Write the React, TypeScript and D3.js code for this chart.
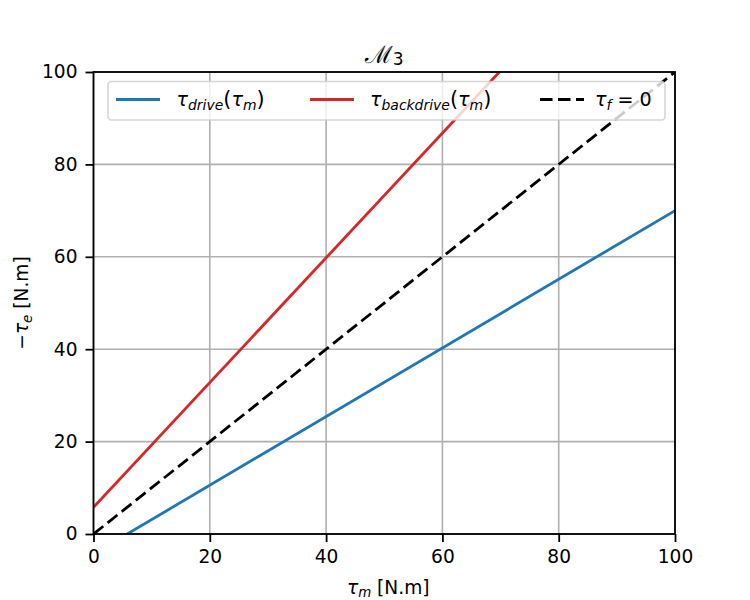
import React, { useEffect, useRef } from 'react';
import * as d3 from 'd3';

// tick labels
const xTicks = [0, 20, 40, 60, 80, 100];
const yTicks = [0, 20, 40, 60, 80, 100];

// series values
const driveX = [5.8, 100];
const driveY = [0, 70];
const backX = [0, 69.8];
const backY = [5.8, 100];
const idealX = [0, 100];
const idealY = [0, 100];

const W = 750;
const H = 600;
const M = { left: 93.5, right: 75, top: 72, bottom: 66 };

const App: React.FC = () => {
  const svgRef = useRef<SVGSVGElement | null>(null);

  useEffect(() => {
    if (!svgRef.current) return;
    const svg = d3.select(svgRef.current);
    svg.selectAll('*').remove();

    const font = 'DejaVu Sans, sans-serif';
    const fs = 18.6;
    const lw = 2.8;
    const dash = '12.5,5.5';
    const x = d3.scaleLinear().domain([0, 100]).range([M.left, W - M.right]);
    const y = d3.scaleLinear().domain([0, 100]).range([H - M.bottom, M.top]);

    svg.append('defs').append('clipPath').attr('id', 'plot-clip')
      .append('rect')
      .attr('x', M.left).attr('y', M.top)
      .attr('width', W - M.left - M.right).attr('height', H - M.top - M.bottom);

    // Grid
    const grid = svg.append('g');
    grid.selectAll('line.gx').data(xTicks).enter().append('line')
      .attr('x1', d => x(d)).attr('x2', d => x(d))
      .attr('y1', M.top).attr('y2', H - M.bottom)
      .attr('stroke', '#b0b0b0').attr('stroke-width', 1.6);
    grid.selectAll('line.gy').data(yTicks).enter().append('line')
      .attr('y1', d => y(d)).attr('y2', d => y(d))
      .attr('x1', M.left).attr('x2', W - M.right)
      .attr('stroke', '#b0b0b0').attr('stroke-width', 1.6);

    // Lines
    const line = d3.line<[number, number]>().x(d => x(d[0])).y(d => y(d[1]));
    const plot = svg.append('g').attr('clip-path', 'url(#plot-clip)');
    const series = [
      { xs: driveX, ys: driveY, color: '#1f77b4', dash: null },
      { xs: backX, ys: backY, color: '#d62728', dash: null },
      { xs: idealX, ys: idealY, color: '#000000', dash: dash },
    ];
    series.forEach(s => {
      const pts = s.xs.map((v, i) => [v, s.ys[i]] as [number, number]);
      plot.append('path')
        .attr('d', line(pts) || '')
        .attr('fill', 'none')
        .attr('stroke', s.color)
        .attr('stroke-width', lw)
        .attr('stroke-dasharray', s.dash);
    });

    // Axes
    const xAxis = svg.append('g').attr('transform', `translate(0,${H - M.bottom})`)
      .call(d3.axisBottom(x).tickValues(xTicks).tickSize(8).tickPadding(8).tickFormat(d3.format('d')));
    const yAxis = svg.append('g').attr('transform', `translate(${M.left},0)`)
      .call(d3.axisLeft(y).tickValues(yTicks).tickSize(8).tickPadding(8).tickFormat(d3.format('d')));
    [xAxis, yAxis].forEach(a => {
      a.select('.domain').remove();
      a.selectAll('line').attr('stroke', '#000').attr('stroke-width', 1.8);
      a.selectAll('text').attr('font-family', font).attr('font-size', fs).attr('fill', '#000');
    });

    // Frame
    svg.append('rect')
      .attr('x', M.left).attr('y', M.top)
      .attr('width', W - M.left - M.right).attr('height', H - M.top - M.bottom)
      .attr('fill', 'none').attr('stroke', '#000').attr('stroke-width', 1.8);

    // Title
    const title = svg.append('text')
      .attr('x', (M.left + W - M.right) / 2).attr('y', 63)
      .attr('text-anchor', 'middle')
      .attr('font-family', font).attr('font-size', 21);
    title.append('tspan').attr('font-family', 'DejaVu Serif, serif').attr('font-size', 24).text('ℳ');
    title.append('tspan').attr('font-size', 17).attr('dy', 2).text('3');

    // X label
    const xl = svg.append('text')
      .attr('x', (M.left + W - M.right) / 2 + 4).attr('y', 594)
      .attr('text-anchor', 'middle')
      .attr('font-family', font).attr('font-size', fs);
    xl.append('tspan').attr('font-style', 'italic').text('τ');
    xl.append('tspan').attr('font-style', 'italic').attr('font-size', fs * 0.72).attr('dy', 3).text('m');
    xl.append('tspan').attr('dy', -3).text(' [N.m]');

    // Y label
    const yl = svg.append('text')
      .attr('transform', `translate(28,${(M.top + H - M.bottom) / 2}) rotate(-90)`)
      .attr('text-anchor', 'middle')
      .attr('font-family', font).attr('font-size', fs);
    yl.append('tspan').text('−');
    yl.append('tspan').attr('font-style', 'italic').text('τ');
    yl.append('tspan').attr('font-style', 'italic').attr('font-size', fs * 0.72).attr('dy', 4).text('e');
    yl.append('tspan').attr('dy', -4).text(' [N.m]');

    // Legend
    const lg = svg.append('g');
    lg.append('rect')
      .attr('x', 108).attr('y', 81.5).attr('width', 557).attr('height', 38.5)
      .attr('rx', 3.5)
      .attr('fill', 'rgba(255,255,255,0.8)')
      .attr('stroke', 'rgba(204,204,204,0.8)').attr('stroke-width', 1.6);
    const entries = [
      { x0: 116, tx: 176.5, color: '#1f77b4', dash: null, sub: 'drive', tail: true },
      { x0: 310, tx: 370, color: '#d62728', dash: null, sub: 'backdrive', tail: true },
      { x0: 540, tx: 595, color: '#000000', dash: dash, sub: 'f', tail: false },
    ];
    entries.forEach(e => {
      lg.append('line')
        .attr('x1', e.x0).attr('x2', e.x0 + 44)
        .attr('y1', 99.5).attr('y2', 99.5)
        .attr('stroke', e.color).attr('stroke-width', lw)
        .attr('stroke-dasharray', e.dash);
      const t = lg.append('text')
        .attr('x', e.tx).attr('y', 105.5)
        .attr('font-family', font).attr('font-size', fs + 0.5);
      t.append('tspan').attr('font-style', 'italic').text('τ');
      t.append('tspan').attr('font-style', 'italic').attr('font-size', fs * 0.75).attr('dy', 4).text(e.sub);
      if (e.tail) {
        t.append('tspan').attr('dy', -4).attr('font-size', fs * 1.12).text('(');
        t.append('tspan').attr('font-style', 'italic').text('τ');
        t.append('tspan').attr('font-style', 'italic').attr('font-size', fs * 0.75).attr('dy', 4).text('m');
        t.append('tspan').attr('dy', -4).attr('font-size', fs * 1.12).text(')');
      } else {
        t.append('tspan').attr('dy', -4).text(' = 0');
      }
    });
  }, []);

  return (
    <div style={{ position: 'absolute', left: 0, top: 0, width: W, height: H }}>
      <svg ref={svgRef} width={W} height={H} style={{ display: 'block', background: '#fff' }} />
    </div>
  );
};

export default App;
